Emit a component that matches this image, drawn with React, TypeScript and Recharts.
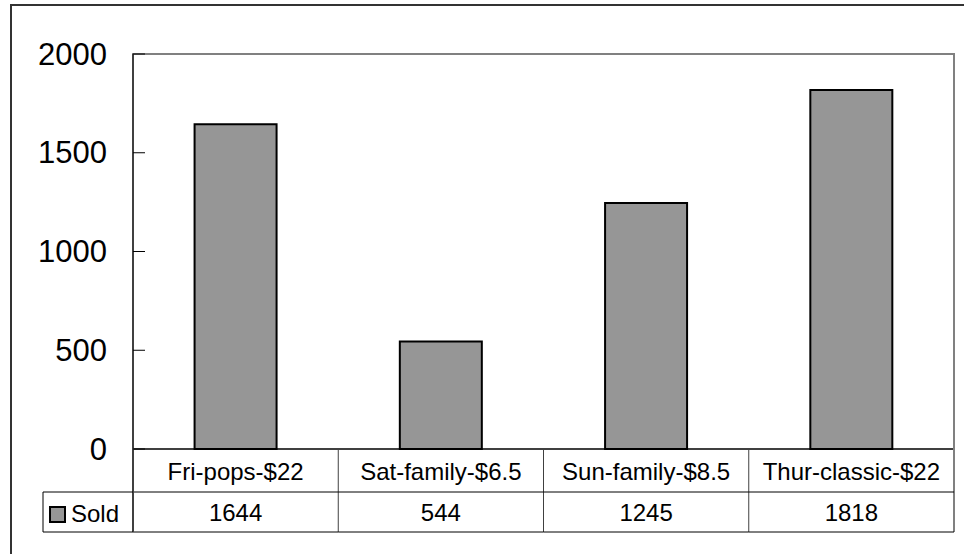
import { Bar, BarChart, ReferenceArea, XAxis, YAxis } from "recharts";

const categories = ["Fri-pops-$22", "Sat-family-$6.5", "Sun-family-$8.5", "Thur-classic-$22"];
const sold = [1644, 544, 1245, 1818];
const seriesName = "Sold";
const yTicks = [0, 500, 1000, 1500, 2000];

const data = categories.map((name, i) => ({ name, sold: sold[i] }));

const W = 964;
const H = 554;
const MARGIN = { top: 54, right: 10, left: 0, bottom: 0 };
const Y_WIDTH = 133;
const X_HEIGHT = 105;
const BAND = (W - MARGIN.right - MARGIN.left - Y_WIDTH) / categories.length;
const FONT = "'Liberation Sans', Arial, sans-serif";

function YTick({ x, y, payload }: any) {
  return (
    <g>
      <line x1={x + 26} x2={x + 38} y1={y} y2={y} stroke="#000" strokeWidth={1} />
      <text
        x={x}
        y={y}
        textAnchor="end"
        dominantBaseline="central"
        fontSize={31}
        fontFamily={FONT}
        fill="#000"
      >
        {payload.value}
      </text>
    </g>
  );
}

function XTick({ x, y, index, payload }: any) {
  const left = x - BAND / 2;
  const right = x + BAND / 2;
  const mid = y + 43;
  const bot = y + 83;
  const last = index === categories.length - 1;
  return (
    <g>
      <line
        x1={right}
        x2={right}
        y1={last ? y - 1 : y}
        y2={bot}
        stroke={last ? "#808080" : "#404040"}
        strokeWidth={last ? 2 : 1}
      />
      <line x1={left} x2={right} y1={mid} y2={mid} stroke="#000" />
      <line x1={left} x2={right} y1={bot} y2={bot} stroke="#000" />
      <text
        x={x}
        y={y + 22}
        textAnchor="middle"
        dominantBaseline="central"
        fontSize={24}
        fontFamily={FONT}
        fill="#000"
      >
        {payload.value}
      </text>
      <text
        x={x}
        y={y + 63}
        textAnchor="middle"
        dominantBaseline="central"
        fontSize={24}
        fontFamily={FONT}
        fill="#000"
      >
        {sold[index]}
      </text>
      {index === 0 && (
        <g>
          <line x1={left} x2={left} y1={y} y2={bot} stroke="#404040" strokeWidth={2} />
          <line x1={left - 90} x2={left} y1={mid} y2={mid} stroke="#000" />
          <line x1={left - 90} x2={left} y1={bot} y2={bot} stroke="#000" />
          <line x1={left - 90} x2={left - 90} y1={mid} y2={bot} stroke="#000" />
          <rect
            x={left - 83}
            y={mid + 15}
            width={15}
            height={15}
            fill="#969696"
            stroke="#000"
            strokeWidth={2}
          />
          <text
            x={left - 62}
            y={mid + 21}
            dominantBaseline="central"
            fontSize={24}
            fontFamily={FONT}
            fill="#000"
          >
            {seriesName}
          </text>
        </g>
      )}
    </g>
  );
}

export default function App() {
  return (
    <div
      style={{
        position: "absolute",
        left: 0,
        top: 0,
        width: W,
        height: H,
        overflow: "hidden",
        background: "#fff",
      }}
    >
      <div
        style={{
          position: "absolute",
          left: 10,
          top: 4,
          width: W + 40,
          height: H + 40,
          borderLeft: "2px solid #333",
          borderTop: "2px solid #333",
        }}
      />
      <div style={{ position: "absolute", left: 0, top: 0 }}>
        <BarChart width={W} height={H} data={data} margin={MARGIN} barCategoryGap="30%">
          <ReferenceArea
            y1={0}
            y2={2000}
            fill="none"
            stroke="#808080"
            strokeWidth={2}
            ifOverflow="visible"
          />
          <XAxis
            dataKey="name"
            height={X_HEIGHT}
            interval={0}
            tickSize={0}
            tickMargin={0}
            tickLine={false}
            axisLine={{ stroke: "#000", strokeWidth: 1 }}
            tick={<XTick />}
          />
          <YAxis
            width={Y_WIDTH}
            domain={[0, 2000]}
            ticks={yTicks}
            interval={0}
            tickSize={0}
            tickMargin={26}
            tickLine={false}
            axisLine={{ stroke: "#404040", strokeWidth: 2 }}
            tick={<YTick />}
          />
          <Bar
            dataKey="sold"
            name={seriesName}
            fill="#969696"
            stroke="#000"
            strokeWidth={2}
            isAnimationActive={false}
          />
        </BarChart>
      </div>
    </div>
  );
}
